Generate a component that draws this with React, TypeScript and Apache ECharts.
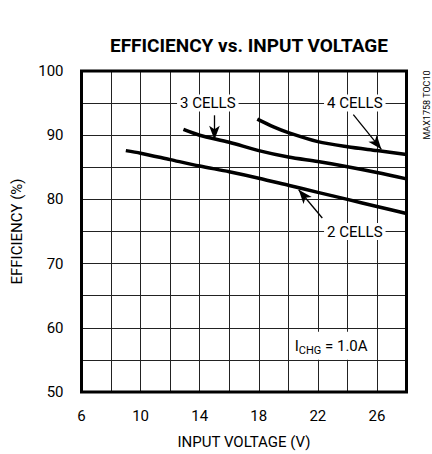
import React, { useEffect, useRef } from "react";
import * as echarts from "echarts";

const xTicks = [6, 10, 14, 18, 22, 26];
const yTicks = [50, 60, 70, 80, 90, 100];

const volts2 = [9, 10, 12, 14, 16, 18, 20, 22, 24, 26, 28];
const eff2 = [87.6, 87.2, 86.2, 85.2, 84.3, 83.3, 82.2, 81.1, 80.0, 78.9, 77.8];
const volts3 = [12.9, 14, 16, 18, 20, 22, 24, 26, 28];
const eff3 = [90.9, 90.0, 88.9, 87.6, 86.6, 85.9, 85.1, 84.2, 83.2];
const volts4 = [17.9, 19, 20, 22, 24, 26, 28];
const eff4 = [92.5, 91.3, 90.4, 89.0, 88.2, 87.6, 87.0];

const seriesNames = ["2 CELLS", "3 CELLS", "4 CELLS"];

const FONT = 'Roboto, "Liberation Sans Narrow", sans-serif';

function pairs(xs: number[], ys: number[]) {
  return xs.map((x, i) => [x, ys[i]]);
}

export default function App() {
  const ref = useRef<HTMLDivElement>(null);
  useEffect(() => {
    if (!ref.current) return;
    const chart = echarts.init(ref.current, null, { renderer: "svg" });
    const lbl = (coord: number[], text: string) => ({
      coord,
      symbol: "rect",
      symbolSize: 1,
      itemStyle: { color: "rgba(0,0,0,0)" },
      label: {
        show: true,
        position: "inside",
        formatter: text,
        color: "#000",
        fontFamily: FONT,
        fontSize: 15,
        backgroundColor: "#fff",
        padding: [1, 3],
      },
    });
    const arrow = (a: number[], b: number[]) => [{ coord: a }, { coord: b }];
    chart.setOption({
      animation: false,
      title: {
        text: "EFFICIENCY vs. INPUT VOLTAGE",
        left: 244,
        top: 31,
        textAlign: "center",
        textStyle: { fontFamily: FONT, fontWeight: "bold", fontSize: 19, color: "#000" },
      },
      grid: {
        left: 81.5,
        right: 25.5,
        top: 71,
        bottom: 59,
        show: true,
        borderColor: "#000",
        borderWidth: 3,
        z: 3,
        backgroundColor: "rgba(0,0,0,0)",
      },
      xAxis: {
        type: "value",
        min: 6,
        max: 28,
        interval: 2,
        name: "INPUT VOLTAGE (V)",
        nameLocation: "middle",
        nameGap: 42,
        nameTextStyle: { fontFamily: FONT, fontSize: 15, color: "#000" },
        axisLine: { show: false },
        axisTick: { show: false },
        axisLabel: {
          fontFamily: FONT,
          fontSize: 15,
          color: "#000",
          margin: 16,
          formatter: (v: number) => (xTicks.includes(v) ? String(v) : ""),
        },
        splitLine: { show: true, lineStyle: { color: "#222", width: 1 } },
      },
      yAxis: {
        type: "value",
        min: 50,
        max: 100,
        interval: 5,
        name: "EFFICIENCY (%)",
        nameLocation: "middle",
        nameGap: 57,
        nameTextStyle: { fontFamily: FONT, fontSize: 15, color: "#000" },
        axisLine: { show: false },
        axisTick: { show: false },
        axisLabel: {
          fontFamily: FONT,
          fontSize: 15,
          color: "#000",
          margin: 18,
          formatter: (v: number) => (yTicks.includes(v) ? String(v) : ""),
        },
        splitLine: { show: true, lineStyle: { color: "#222", width: 1 } },
      },
      graphic: [
        {
          type: "text",
          x: 427,
          y: 105,
          rotation: Math.PI / 2,
          style: {
            text: "MAX1758 TOC10",
            fontFamily: FONT,
            fontSize: 9,
            fill: "#000",
            textAlign: "center",
            textVerticalAlign: "middle",
          },
        },
      ],
      series: [
        {
          name: seriesNames[0],
          type: "line",
          data: pairs(volts2, eff2),
          smooth: 0.3,
          showSymbol: false,
          lineStyle: { color: "#000", width: 3.5 },
          z: 4,
          markLine: {
            silent: true,
            symbol: ["none", "arrow"],
            symbolSize: [8, 14],
            label: { show: false },
            lineStyle: { color: "#000", width: 1.3, type: "solid" },
            data: [
              arrow([22.3, 77.1], [20.7, 81.5]),
              arrow([15.0, 93.1], [15.0, 89.3]),
              arrow([24.4, 93.2], [26.3, 87.8]),
            ],
          },
          markPoint: {
            silent: true,
            data: [
              lbl([24.5, 75], "2 CELLS"),
              lbl([14.55, 95], "3 CELLS"),
              lbl([24.5, 95], "4 CELLS"),
              {
                coord: [22.9, 57.2],
                symbol: "rect",
                symbolSize: 1,
                itemStyle: { color: "rgba(0,0,0,0)" },
                label: {
                  show: true,
                  position: "inside",
                  formatter: "{a|I}{b|CHG}{a| = 1.0A}",
                  backgroundColor: "#fff",
                  padding: [4, 4],
                  rich: {
                    a: { fontFamily: FONT, fontSize: 15, color: "#000", lineHeight: 20, verticalAlign: "middle" },
                    b: { fontFamily: FONT, fontSize: 11, color: "#000", lineHeight: 20, verticalAlign: "bottom", padding: [8, 0, 0, 0] },
                  },
                },
              },
            ],
          },
        },
        {
          name: seriesNames[1],
          type: "line",
          data: pairs(volts3, eff3),
          smooth: 0.3,
          showSymbol: false,
          lineStyle: { color: "#000", width: 3.5 },
          z: 4,
        },
        {
          name: seriesNames[2],
          type: "line",
          data: pairs(volts4, eff4),
          smooth: 0.3,
          showSymbol: false,
          lineStyle: { color: "#000", width: 3.5 },
          z: 4,
        },
      ],
    });
    return () => chart.dispose();
  }, []);
  return (
    <div
      ref={ref}
      style={{ position: "absolute", left: 0, top: 0, width: 432, height: 454, background: "#fff" }}
    />
  );
}
